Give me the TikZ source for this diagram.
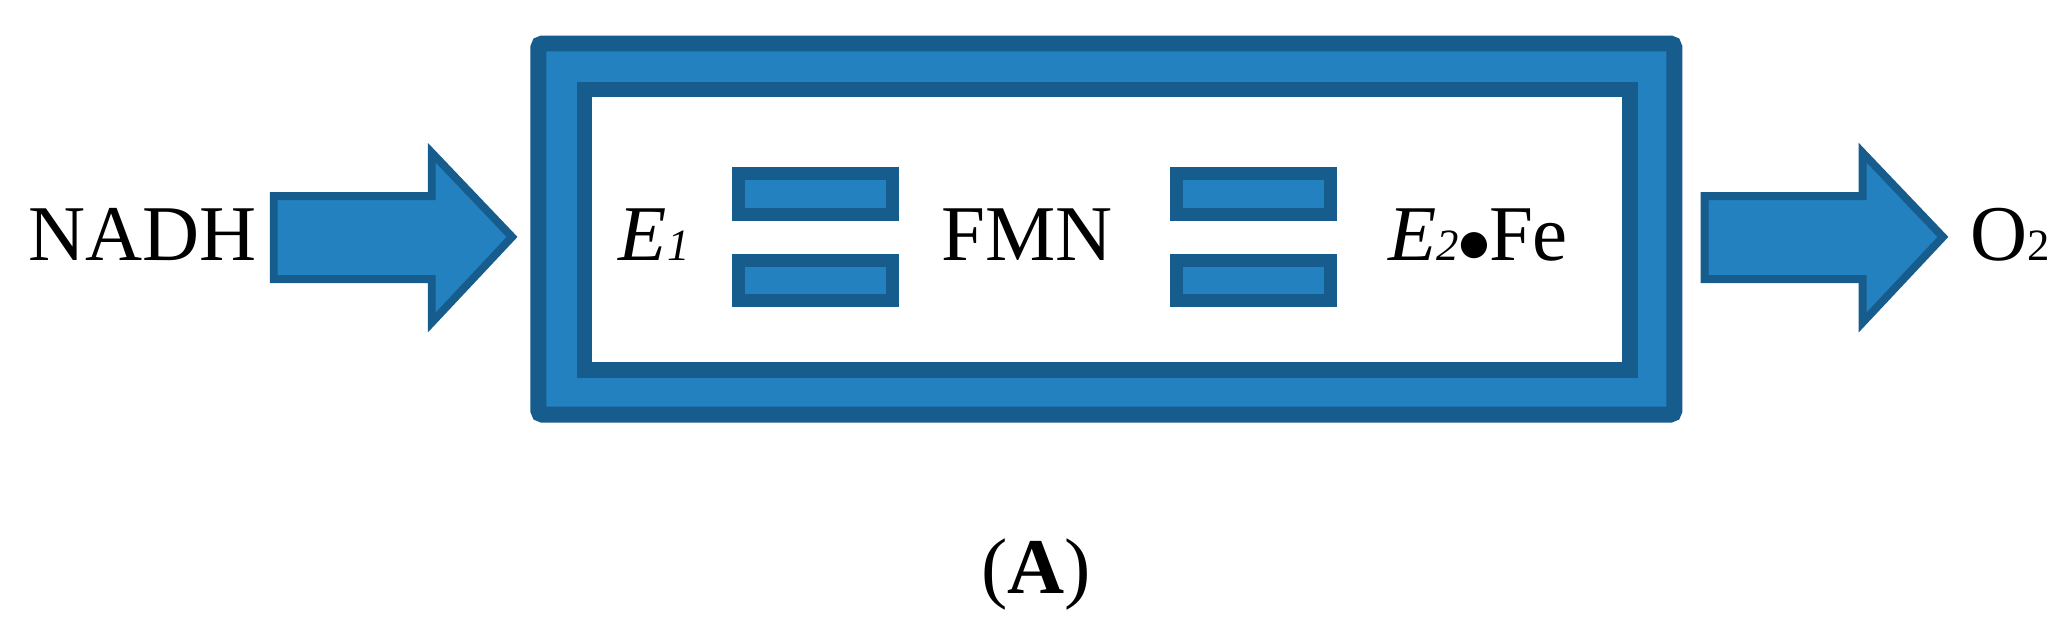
\documentclass[tikz,border=0pt]{standalone}
\usepackage{fontspec}
\setmainfont{Liberation Serif}
\definecolor{lb}{HTML}{2481C0}
\definecolor{db}{HTML}{165C8C}
\newcommand{\sbs}[1]{{\fontsize{34}{34}\selectfont #1}}
\begin{document}
\begin{tikzpicture}[x=1pt,y=-1pt,
  blue/.style={fill=lb,draw=db,line width=12pt},
  bar/.style={fill=lb,draw=db,line width=10pt},
  lbl/.style={font=\fontsize{60}{60}\selectfont,inner sep=0pt,anchor=base}]
\useasboundingbox (0,0) rectangle (1568,478);
\draw[blue,rounded corners=3pt] (409,33) rectangle (1272,315);
\draw[fill=white,draw=db,line width=12pt] (444,68) rectangle (1238,281);
\foreach \x in {556,889}{
  \draw[bar] (\x+5,132) rectangle (\x+122,163);
  \draw[bar] (\x+5,198) rectangle (\x+122,228);}
\draw[fill=lb,draw=db,line width=6pt,line join=miter] (208,149) -- (328,149) -- (328,116) -- (389,180) -- (328,245) -- (328,212) -- (208,212) -- cycle;
\draw[fill=lb,draw=db,line width=6pt,line join=miter] (1295,149) -- (1415,149) -- (1415,116) -- (1476,180) -- (1415,245) -- (1415,212) -- (1295,212) -- cycle;
\node[lbl] (nadh) at (108,198) {NADH};
\node[lbl] (e1) at (497,198) {\textit{E}\sbs{\textit{1}}};
\node[lbl] (fmn) at (780,198) {FMN};
\node[lbl] (e2) at (1123,198) {\textit{E}\sbs{\textit{2}}\raisebox{5pt}{\fontspec{DejaVu Sans}\fontsize{26}{26}\selectfont●}Fe};
\node[lbl] (o2) at (1527,198) {O\sbs{2}};
\node[lbl] (a) at (787,451) {(\textbf{A})};
\end{tikzpicture}
\end{document}
